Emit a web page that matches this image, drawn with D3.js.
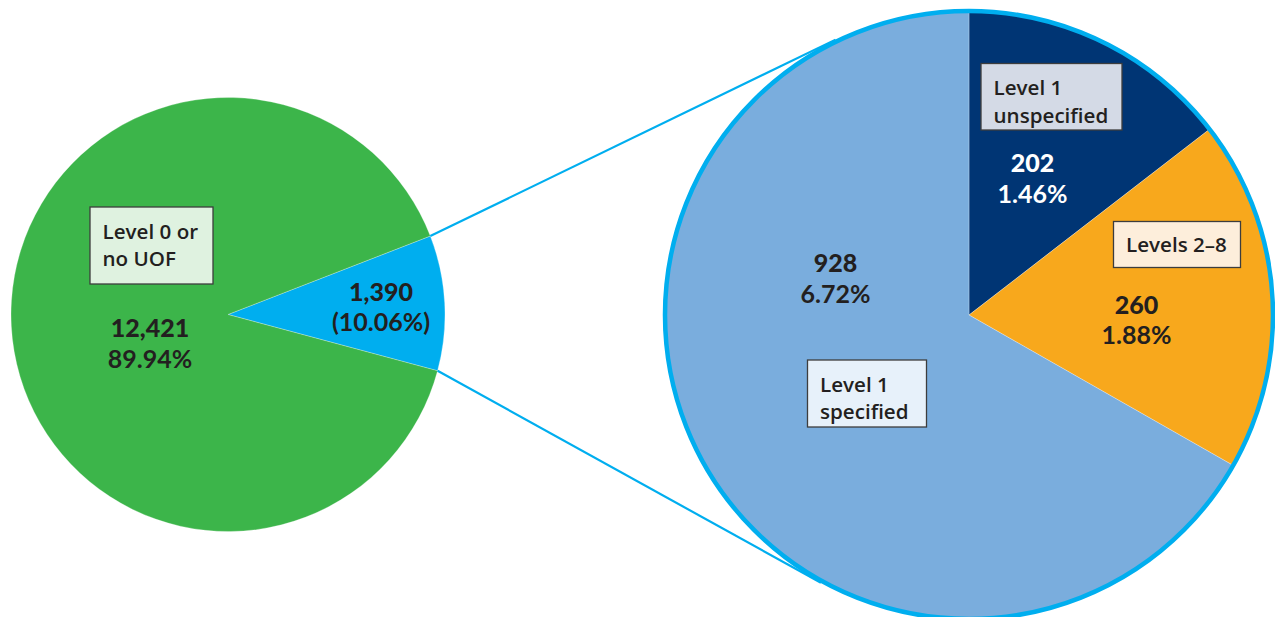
<!DOCTYPE html>
<html>
<head>
<meta charset="utf-8">
<script src="https://cdn.jsdelivr.net/npm/d3@7"></script>
<style>
  html, body { margin: 0; padding: 0; background: #fff; }
  svg { display: block; }
  text { font-family: "Open Sans", "Noto Sans", sans-serif; fill: #231f20; }
  text.value { font-family: Lato, "Open Sans", sans-serif; }
</style>
</head>
<body>
<svg id="chart" width="1275" height="617"></svg>
<script>
// Overview split: cases with no use of force vs. cases with any use of force
const overviewKeys   = ["uof", "none"];
const overviewValues = [1390, 12421];
const overviewLabels = [null, ["Level 0 or", "no UOF"]];

// Breakdown of the 1,390 use-of-force cases
const detailKeys   = ["l1u", "l28", "l1s"];
const detailValues = [202, 260, 928];
const detailLabels = [["Level 1", "unspecified"], ["Levels 2–8"], ["Level 1", "specified"]];

const total = d3.sum(overviewValues);
const pct = d3.format(".2%");
const num = d3.format(",");

const colors = {
  uof: "#00aeef", none: "#3cb54a",
  l1u: "#003574", l28: "#f8a81c", l1s: "#7aaddd"
};
const boxFill = { none: "#dff2e0", l1u: "#d4dae6", l28: "#fdeedb", l1s: "#e7f1fa" };

const svg = d3.select("#chart");
const deg = Math.PI / 180;

// ---- geometry ----
const left  = { cx: 228, cy: 314.5, r: 217 };
const right = { cx: 969, cy: 315,   r: 304 };

// ---- left pie ----
const leftPie = d3.pie().sort(null).value(d => d)
  .startAngle(68.8 * deg).endAngle(68.8 * deg + 2 * Math.PI);
const leftArcs = leftPie(overviewValues);
const leftArc = d3.arc().innerRadius(0).outerRadius(left.r);

const gL = svg.append("g").attr("transform", `translate(${left.cx},${left.cy})`);
gL.selectAll("path").data(leftArcs).join("path")
  .attr("d", leftArc)
  .attr("fill", (d, i) => colors[overviewKeys[i]])
  .attr("stroke", "rgba(255,255,255,0.45)")
  .attr("stroke-width", 0.6);

// polar helper (d3 angle convention: clockwise from 12 o'clock)
const polar = (c, r, a) => [c.cx + r * Math.sin(a), c.cy - r * Math.cos(a)];

// ---- connector lines from the highlighted slice to the detail pie ----
function tangentPoint(p, c, r, side) {
  const dx = p[0] - c.cx, dy = p[1] - c.cy;
  const d = Math.hypot(dx, dy);
  const base = Math.atan2(dy, dx);
  const off = Math.acos(r / d);
  const a = base + side * off;
  return [c.cx + r * Math.cos(a), c.cy + r * Math.sin(a)];
}
const uofArc = leftArcs[0];
const pTop = polar(left, left.r, uofArc.startAngle);
const pBot = polar(left, left.r, uofArc.endAngle);
const rOuter = right.r + 2;
const tTop = tangentPoint(pTop, right, rOuter, 1);
const tBot = tangentPoint(pBot, right, rOuter, -1);

svg.append("g").selectAll("line").data([[pTop, tTop], [pBot, tBot]]).join("line")
  .attr("x1", d => d[0][0]).attr("y1", d => d[0][1])
  .attr("x2", d => d[1][0]).attr("y2", d => d[1][1])
  .attr("stroke", colors.uof).attr("stroke-width", 2.2);

// ---- right pie ----
const rightPie = d3.pie().sort(null).value(d => d);
const rightArcs = rightPie(detailValues);
const rightArc = d3.arc().innerRadius(0).outerRadius(right.r);
const gR = svg.append("g").attr("transform", `translate(${right.cx},${right.cy})`);
gR.selectAll("path").data(rightArcs).join("path")
  .attr("d", rightArc)
  .attr("fill", (d, i) => colors[detailKeys[i]])
  .attr("stroke", "rgba(255,255,255,0.45)")
  .attr("stroke-width", 0.6);
gR.append("circle").attr("r", right.r)
  .attr("fill", "none").attr("stroke", colors.uof).attr("stroke-width", 4.5);

// ---- labels (each multi-line label is one text element with tspans) ----
function labelBox(g, lines, x, y, w, h, fill) {
  g.append("rect").attr("x", x).attr("y", y).attr("width", w).attr("height", h)
    .attr("fill", fill).attr("stroke", "#3d3d3d").attr("stroke-width", 1.3);
  const t = g.append("text")
    .attr("font-size", 20.6).attr("font-weight", 600);
  t.selectAll("tspan").data(lines).join("tspan")
    .attr("x", x + 12.5)
    .attr("y", (d, i) => y + (lines.length === 1 ? 30.5 : 31.5 + i * 27.5))
    .text(d => d);
}
function valueLabel(g, lines, x, y, color) {
  const t = g.append("text")
    .attr("class", "value")
    .attr("text-anchor", "middle")
    .attr("font-size", 25)
    .style("fill", color);
  t.selectAll("tspan").data(lines).join("tspan")
    .attr("x", x)
    .attr("y", (d, i) => y + i * 30.5)
    .style("font-weight", (d, i) => i === 0 ? 900 : 700)
    .style("fill", color)
    .text(d => d);
}

const labels = svg.append("g");

// overview
labelBox(labels, overviewLabels[1], 90, 207, 123, 77, boxFill.none);
valueLabel(labels, [num(overviewValues[1]), pct(overviewValues[1] / total)], 150, 337, "#231f20");
valueLabel(labels, [num(overviewValues[0]), "(" + pct(overviewValues[0] / total) + ")"], 381, 300.5, "#231f20");

// detail
labelBox(labels, detailLabels[0], 981, 63.5, 141, 66.5, boxFill.l1u);
valueLabel(labels, [num(detailValues[0]), pct(detailValues[0] / total)], 1032.5, 172, "#ffffff");

labelBox(labels, detailLabels[1], 1113.5, 221.5, 127, 46, boxFill.l28);
valueLabel(labels, [num(detailValues[1]), pct(detailValues[1] / total)], 1136.5, 313.5, "#231f20");

labelBox(labels, detailLabels[2], 807.5, 360, 119, 67, boxFill.l1s);
valueLabel(labels, [num(detailValues[2]), pct(detailValues[2] / total)], 835.5, 272, "#231f20");
</script>
</body>
</html>
